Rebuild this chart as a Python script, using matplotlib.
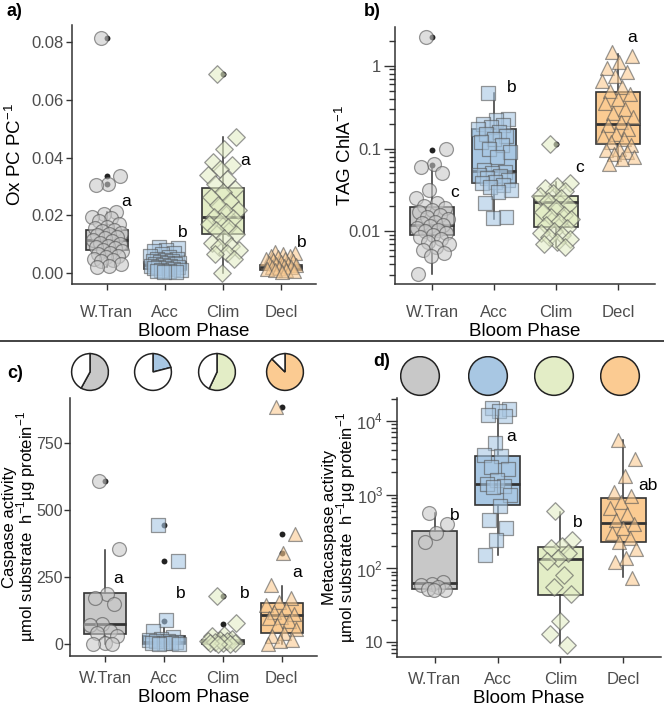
import numpy as np
import matplotlib
matplotlib.use("Agg")
import matplotlib.pyplot as plt
from matplotlib.lines import Line2D
from matplotlib.patches import Circle
from matplotlib.ticker import FixedLocator, FuncFormatter, LogLocator, NullFormatter

plt.rcParams['font.family'] = ['Liberation Sans', 'DejaVu Sans']

phases = ["W.Tran", "Acc", "Clim", "Decl"]
fills = ["#C8C8C8", "#A8C7E3", "#E3EDC6", "#FBCB92"]
markers = ["o", "s", "D", "^"]

# ---------------- panel a: Ox PC / PC ----------------
a_wt = [0.0815, 0.0335, 0.031, 0.0305, 0.021, 0.0205, 0.0195, 0.019, 0.018, 0.017, 0.016, 0.0155,
        0.015, 0.0145, 0.014, 0.0135, 0.013, 0.0125, 0.012, 0.0115, 0.011, 0.0105, 0.010, 0.0095,
        0.009, 0.0085, 0.008, 0.0075, 0.007, 0.0065, 0.006, 0.0055, 0.005, 0.0045, 0.004, 0.003,
        0.0025, 0.002]
a_acc = [0.009, 0.0085, 0.008, 0.0075, 0.007, 0.0065, 0.006, 0.0055, 0.005, 0.0048, 0.0045, 0.0042,
         0.004, 0.0038, 0.0036, 0.0034, 0.0032, 0.003, 0.0028, 0.0026, 0.0024, 0.0022, 0.002, 0.0018,
         0.0016, 0.0014, 0.0012, 0.001, 0.0008, 0.0006, 0.0004, 0.0002]
a_clim = [0.069, 0.047, 0.043, 0.0385, 0.0375, 0.036, 0.034, 0.0325, 0.031, 0.029, 0.028, 0.0265,
          0.025, 0.0235, 0.022, 0.021, 0.0195, 0.019, 0.018, 0.017, 0.016, 0.015, 0.0135, 0.012,
          0.0105, 0.0095, 0.009, 0.008, 0.007, 0.0065, 0.005, 0.0]
a_decl = [0.0072, 0.0068, 0.0065, 0.006, 0.0058, 0.0055, 0.005, 0.0048, 0.0045, 0.004, 0.0038,
          0.0035, 0.0032, 0.003, 0.0028, 0.0025, 0.0022, 0.002, 0.0018, 0.0015, 0.0012, 0.001,
          0.0008, 0.0005]
a_q1 = [0.0081, 0.0015, 0.0136, 0.0012]
a_med = [0.0113, 0.0027, 0.0194, 0.0020]
a_q3 = [0.0148, 0.0038, 0.0294, 0.0027]
a_lo = [0.002, 0.0002, 0.0, 0.0005]
a_hi = [0.021, 0.0075, 0.047, 0.0045]
a_out = [[0.0815, 0.0335, 0.031], [], [0.069], []]
a_letters = ["a", "b", "a", "b"]
a_letter_y = [0.0246, 0.0139, 0.0388, 0.0104]

# ---------------- panel b: TAG / ChlA ----------------
b_wt = [2.2, 0.1, 0.065, 0.06, 0.05, 0.032, 0.025, 0.022, 0.02, 0.019, 0.018, 0.017, 0.016, 0.015,
        0.014, 0.013, 0.0125, 0.012, 0.0115, 0.011, 0.0105, 0.01, 0.0095, 0.009, 0.0085, 0.008,
        0.0075, 0.007, 0.0065, 0.006, 0.0055, 0.005, 0.0031]
b_acc = [0.47, 0.23, 0.22, 0.2, 0.19, 0.18, 0.17, 0.16, 0.15, 0.14, 0.13, 0.12, 0.11, 0.1, 0.09,
         0.08, 0.055, 0.052, 0.05, 0.048, 0.046, 0.044, 0.042, 0.04, 0.038, 0.036, 0.034, 0.032,
         0.03, 0.022, 0.015, 0.0145]
b_clim = [0.112, 0.038, 0.035, 0.033, 0.031, 0.029, 0.027, 0.025, 0.023, 0.021, 0.019, 0.017, 0.016,
          0.015, 0.014, 0.013, 0.012, 0.011, 0.01, 0.0095, 0.009, 0.0085, 0.008, 0.0075, 0.007, 0.0065]
b_decl = [1.45, 1.3, 1.1, 0.95, 0.85, 0.75, 0.65, 0.55, 0.5, 0.45, 0.4, 0.35, 0.3, 0.27, 0.24, 0.21,
          0.19, 0.17, 0.15, 0.14, 0.13, 0.12, 0.11, 0.1, 0.095, 0.09, 0.085, 0.08, 0.075, 0.065]
b_q1 = [0.009, 0.038, 0.0113, 0.114]
b_med = [0.0121, 0.0537, 0.0225, 0.198]
b_q3 = [0.0196, 0.17, 0.027, 0.488]
b_lo = [0.0031, 0.0142, 0.0065, 0.065]
b_hi = [0.058, 0.467, 0.039, 1.4]
b_out = [[0.063, 0.097, 2.2], [], [0.112], []]
b_letters = ["c", "b", "c", "a"]
b_letter_y = [0.0296, 0.545, 0.059, 2.2]

# ---------------- panel c: Caspase activity ----------------
c_wt = [607, 355, 185, 170, 150, 75, 70, 50, 40, 30, 5, 0, 0]
c_acc = [445, 310, 88, 48, 25, 20, 15, 12, 10, 8, 5, 3, 2, 1, 0]
c_clim = [180, 80, 35, 28, 20, 15, 12, 10, 8, 5, 3, 2, 0, 0]
c_decl = [885, 410, 340, 220, 170, 155, 145, 130, 120, 110, 100, 95, 85, 70, 55, 40, 30, 15, 10, 0]
c_q1 = [38, 0, 0, 40]
c_med = [73, 8, 6, 108]
c_q3 = [190, 30, 16, 152]
c_lo = [0, 0, 0, 0]
c_hi = [352, 60, 35, 215]
c_out = [[607], [85, 310, 445], [75, 178], [340, 410, 885]]
c_letters = ["a", "b", "b", "a"]
c_letter_y = [243, 187, 187, 265]
c_pie_frac = [0.58, 0.21, 0.57, 0.875]

# ---------------- panel d: Metacaspase activity ----------------
d_wt = [560, 400, 300, 230, 65, 62, 60, 55, 52, 50, 50]
d_acc = [15000, 14500, 13500, 12000, 11500, 5000, 3500, 3300, 2400, 2200, 1600, 1400, 1300, 1250,
         1000, 700, 450, 350, 240, 150]
d_clim = [600, 240, 200, 190, 160, 140, 125, 80, 55, 45, 19, 13, 9]
d_decl = [5500, 3000, 1800, 1100, 950, 800, 650, 550, 450, 400, 350, 300, 260, 230, 180, 140, 120, 75]
d_q1 = [53, 724, 43, 227]
d_med = [63, 1400, 135, 412]
d_q3 = [318, 3350, 195, 910]
d_lo = [50, 150, 9, 76]
d_hi = [560, 14000, 580, 5600]
d_out = [[], [], [], []]
d_letters = ["b", "a", "b", "ab"]
d_letter_y = [525, 6200, 417, 1340]
d_pie_frac = [1.0, 1.0, 1.0, 1.0]

W, H = 664, 709
fig = plt.figure(figsize=(W / 100, H / 100), dpi=100)


def px_axes(l, t, r, b):
    return fig.add_axes([l / W, 1 - b / H, (r - l) / W, (b - t) / H])


EDGE = "#333333"
TICKC = "#4D4D4D"


def draw_panel(ax, groups, q1, med, q3, lo, hi, outs, letters, letter_y, jw=0.27,
               msize=100, letter_dx=(0.33, 0.3, 0.38, 0.35), xpad=11, lpad=2):
    stats = []
    for i in range(4):
        stats.append(dict(q1=q1[i], med=med[i], q3=q3[i], whislo=lo[i], whishi=hi[i], fliers=[]))
    bp = ax.bxp(stats, positions=[1, 2, 3, 4], widths=0.72, patch_artist=True, showfliers=False,
                boxprops=dict(edgecolor=EDGE, linewidth=1.2),
                medianprops=dict(color=EDGE, linewidth=2.0),
                whiskerprops=dict(color=EDGE, linewidth=1.1),
                capprops=dict(linewidth=0), zorder=2)
    for patch, col in zip(bp['boxes'], fills):
        patch.set_facecolor(col)
    for i, o in enumerate(outs):
        if o:
            ax.scatter([i + 1] * len(o), o, s=18, color="#222222", zorder=3, linewidths=0)
    for i, vals in enumerate(groups):
        n = len(vals)
        k = np.arange(n)
        off = (((k * 0.6180339887 + 0.31) % 1.0) - 0.5) * 2 * jw
        ax.scatter(i + 1 + off, vals, s=msize if markers[i] != "D" else msize * 0.8,
                   marker=markers[i], facecolor=fills[i], edgecolor="#555555",
                   alpha=0.6, linewidths=0.9, zorder=4)
    for i in range(4):
        ax.text(i + 1 + letter_dx[i], letter_y[i], letters[i], fontsize=12.5, color="black",
                ha="center", va="center", zorder=5)
    ax.set_xlim(0.4, 4.6)
    ax.set_xticks([1, 2, 3, 4])
    ax.set_xticklabels(phases)
    ax.set_xlabel("Bloom Phase", fontsize=13.5, color="black", labelpad=lpad)
    for s in ("top", "right"):
        ax.spines[s].set_visible(False)
    for s in ("left", "bottom"):
        ax.spines[s].set_color("#333333")
        ax.spines[s].set_linewidth(1.1)
    ax.tick_params(axis="both", which="major", labelsize=12, colors="#333333", labelcolor=TICKC,
                   length=4, width=1)
    ax.tick_params(axis="x", pad=xpad)
    ax.tick_params(axis="y", pad=2)


# panel a
axa = px_axes(72, 25, 316, 284)
draw_panel(axa, [a_wt, a_acc, a_clim, a_decl], a_q1, a_med, a_q3, a_lo, a_hi, a_out,
           a_letters, a_letter_y, letter_dx=(0.33, 0.3, 0.38, 0.35))
axa.set_ylim(-0.0038, 0.0859)
axa.set_yticks([0, 0.02, 0.04, 0.06, 0.08])
axa.set_yticklabels(["0.00", "0.02", "0.04", "0.06", "0.08"])
axa.set_ylabel("Ox PC PC$^{\\mathregular{-1}}$", fontsize=13.5)
axa.yaxis.set_label_coords((25 - 72) / 244, 0.5)

# panel b
axb = px_axes(395, 27, 655, 284)
axb.set_yscale("log")
draw_panel(axb, [b_wt, b_acc, b_clim, b_decl], b_q1, b_med, b_q3, b_lo, b_hi, b_out,
           b_letters, b_letter_y, letter_dx=(0.37, 0.29, 0.39, 0.23))
axb.set_ylim(0.00232, 2.93)
axb.yaxis.set_major_locator(FixedLocator([0.01, 0.1, 1]))
axb.yaxis.set_major_formatter(FuncFormatter(lambda v, p: {0.01: "0.01", 0.1: "0.1", 1: "1"}.get(round(v, 3), "")))
axb.yaxis.set_minor_locator(LogLocator(base=10, subs=np.arange(2, 10)))
axb.yaxis.set_minor_formatter(NullFormatter())
axb.tick_params(axis="y", which="major", length=8)
axb.tick_params(axis="y", which="minor", length=4, width=1, colors="#333333")
axb.set_ylabel("TAG ChlA$^{\\mathregular{-1}}$", fontsize=13.5)
axb.yaxis.set_label_coords((355 - 395) / 260, 0.5)

# panel c
axc = px_axes(70, 398, 317, 656)
draw_panel(axc, [c_wt, c_acc, c_clim, c_decl], c_q1, c_med, c_q3, c_lo, c_hi, c_out,
           c_letters, c_letter_y, letter_dx=(0.22, 0.29, 0.37, 0.27), xpad=7, lpad=2)
axc.set_ylim(-45, 918)
axc.set_yticks([0, 250, 500, 750])
axc.tick_params(axis="y", labelsize=11.5, pad=1)
axc.set_ylabel("Caspase activity\n\u00b5mol substrate  h$^{\\mathregular{-1}}$\u00b5g protein$^{\\mathregular{-1}}$",
               fontsize=12, linespacing=0.88)
axc.yaxis.set_label_coords((38 - 70) / 247, 0.5)

# panel d
axd = px_axes(397, 398, 661, 657)
axd.set_yscale("log")
draw_panel(axd, [d_wt, d_acc, d_clim, d_decl], d_q1, d_med, d_q3, d_lo, d_hi, d_out,
           d_letters, d_letter_y, jw=0.22, letter_dx=(0.32, 0.22, 0.27, 0.4), xpad=7, lpad=2)
axd.set_ylim(6.25, 20500)
axd.yaxis.set_major_locator(FixedLocator([10, 100, 1000, 10000]))
axd.yaxis.set_major_formatter(FuncFormatter(
    lambda v, p: "10" if abs(v - 10) < 1e-6 else "10$^{\\mathregular{%d}}$" % round(np.log10(v))))
axd.yaxis.set_minor_locator(LogLocator(base=10, subs=np.arange(2, 10)))
axd.yaxis.set_minor_formatter(NullFormatter())
axd.tick_params(axis="y", which="major", length=8)
axd.tick_params(axis="y", which="minor", length=4, width=1, colors="#333333")
axd.set_ylabel("Metacaspase activity\n\u00b5mol substrate  h$^{\\mathregular{-1}}$\u00b5g protein$^{\\mathregular{-1}}$",
               fontsize=12, linespacing=0.88)
axd.yaxis.set_label_coords((358 - 397) / 264, 0.5)


# pies
def pie_at(cx, cy, r, frac, col):
    pa = px_axes(cx - r - 1, cy - r - 1, cx + r + 1, cy + r + 1)
    pa.axis("off")
    if frac >= 0.999:
        pa.add_patch(Circle((0, 0), 1, facecolor=col, edgecolor="#222222", linewidth=1.1))
    else:
        pa.pie([frac, 1 - frac], colors=[col, "white"], startangle=90, counterclock=False,
               radius=1, wedgeprops=dict(edgecolor="#222222", linewidth=1.1))
    pa.set_xlim(-1.06, 1.06)
    pa.set_ylim(-1.06, 1.06)
    pa.set_aspect("equal")


for cx, f, col in zip([90, 153, 217, 285], c_pie_frac, fills):
    pie_at(cx, 372, 18.5, f, col)
for cx, f, col in zip([420, 488, 554, 620], d_pie_frac, fills):
    pie_at(cx, 376, 19.5, f, col)

# separator line
fig.add_artist(Line2D([0, 1], [1 - 341 / H, 1 - 341 / H], color="#222222", linewidth=1.2))

# panel labels
for lbl, x, y in [("a)", 7, 12), ("b)", 364, 12), ("c)", 7, 374), ("d)", 373, 362)]:
    fig.text(x / W, 1 - y / H, lbl, fontsize=13, fontweight="bold", ha="left", va="center")

fig.savefig("out.png", dpi=100)
